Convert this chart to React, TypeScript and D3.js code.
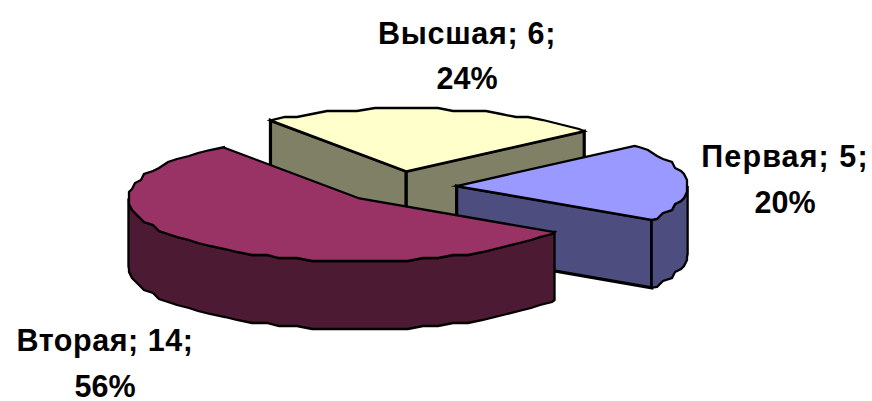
import React from "react";
import * as d3 from "d3";

const categories = ["Высшая", "Первая", "Вторая"];
const values = [6, 5, 14];
const percents = ["24%", "20%", "56%"];
const topColors = ["#FFFFCC", "#9999FF", "#993366"];
const sideColors = ["#808066", "#4D4D80", "#4D1A33"];

const width = 872;
const height = 401;

// pie geometry, tilted view
const cx = 399;
const cy = 187;
const rx = 231;
const ry = 63;
const depth = 68;
const explode = 0.25;
const startDeg = -36;

const rad = (d: number) => (d * Math.PI) / 180;
const step = rad(4);
const jag = (v: number) => Math.round(v / 3) * 3;

const pie = d3
  .pie<number>()
  .sort(null)
  .startAngle(rad(startDeg))
  .endAngle(rad(startDeg + 360));
const arcs = pie(values);

const line = d3.line().curve(d3.curveLinear);

const labelLayout = [
  { x: 467, y1: 44, y2: 89, spacing: 0.7 },
  { x: 785, y1: 167, y2: 213, spacing: 1.1 },
  { x: 105, y1: 351, y2: 397, spacing: 0.55 },
];

function Slice({ arc }: { arc: d3.PieArcDatum<number> }) {
  const i = arc.index;
  const mid = (arc.startAngle + arc.endAngle) / 2;
  const ax = cx + explode * rx * Math.sin(mid);
  const ay = cy - explode * ry * Math.cos(mid);

  const pt = (t: number): [number, number] => [
    ax + rx * Math.sin(t),
    ay - ry * Math.cos(t),
  ];
  // the rim is a rough polygon, like the old metafile export
  const rim = (a: number, b: number): [number, number][] => {
    const first = Math.floor(a / step) + 1;
    const last = Math.ceil(b / step) - 1;
    const inner = d3.range(first, last + 1).map((k) => {
      const p = pt(k * step);
      return [jag(p[0]), jag(p[1])] as [number, number];
    });
    return [pt(a), ...inner, pt(b)];
  };
  const down = (p: [number, number]): [number, number] => [p[0], p[1] + depth];

  const apex: [number, number] = [ax, ay];
  const face = (p: [number, number]) => [apex, p, down(p), down(apex)] as [number, number][];

  const wallFrom = Math.max(arc.startAngle, Math.PI / 2);
  const wallTo = Math.min(arc.endAngle, (3 * Math.PI) / 2);
  const wallRim = wallTo > wallFrom ? rim(wallFrom, wallTo) : [];
  const wall = [...wallRim, ...wallRim.slice().reverse().map(down)];

  const top = [apex, ...rim(arc.startAngle, arc.endAngle)];

  const common = {
    stroke: "#000",
    strokeWidth: 2.3,
    strokeLinejoin: "miter" as const,
    strokeMiterlimit: 6,
  };
  return (
    <g>
      {Math.sin(arc.startAngle) < 0 && (
        <path
          d={line(face(pt(arc.startAngle))) + "Z"}
          fill={sideColors[i]}
          {...common}
          strokeWidth={3.2}
        />
      )}
      {Math.sin(arc.endAngle) > 0 && (
        <path
          d={line(face(pt(arc.endAngle))) + "Z"}
          fill={sideColors[i]}
          {...common}
          strokeWidth={3.2}
        />
      )}
      {wall.length > 0 && <path d={line(wall) + "Z"} fill={sideColors[i]} {...common} />}
      <path d={line(top) + "Z"} fill={topColors[i]} {...common} />
    </g>
  );
}

export default function App() {
  return (
    <svg
      width={width}
      height={height}
      style={{ position: "absolute", left: 0, top: 0, background: "#fff" }}
    >
      {arcs.map((a) => (
        <Slice key={a.index} arc={a} />
      ))}
      {arcs.map((a) => {
        const l = labelLayout[a.index];
        return (
          <text
            key={a.index}
            textAnchor="middle"
            fontFamily="'Liberation Sans', Arial, sans-serif"
            fontWeight="bold"
            fontSize={30.5}
            fill="#000"
          >
            <tspan x={l.x} y={l.y1} letterSpacing={l.spacing}>
              {`${categories[a.index]}; ${a.value};`}
            </tspan>
            <tspan x={l.x} y={l.y2}>
              {percents[a.index]}
            </tspan>
          </text>
        );
      })}
    </svg>
  );
}
